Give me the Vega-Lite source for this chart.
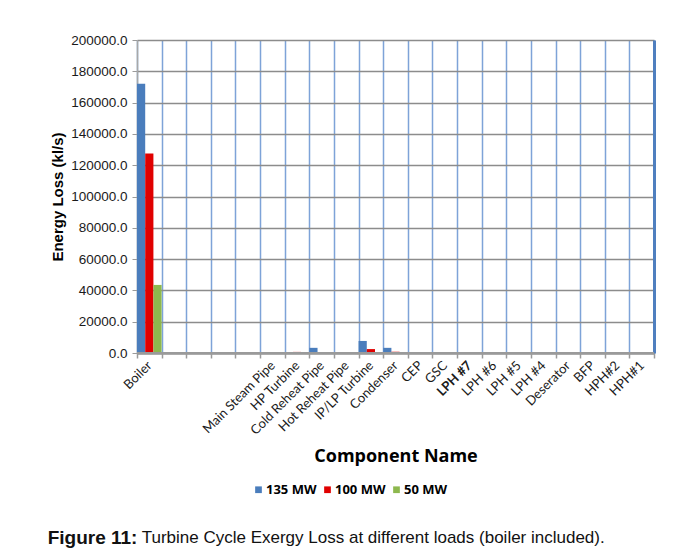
{
  "$schema": "https://vega.github.io/schema/vega-lite/v6.json",
  "autosize": {"type": "pad"},
  "padding": {"left": 47, "top": 33, "right": 5, "bottom": 5},
  "background": "white",
  "title": {
    "text": "Turbine Cycle Exergy Loss at different loads (boiler included).",
    "orient": "bottom",
    "anchor": "start",
    "font": "Liberation Sans",
    "fontSize": 17,
    "fontWeight": "normal",
    "color": "#111111",
    "offset": 0,
    "dx": 94,
    "dy": -18
  },
  "resolve": {"legend": {"color": "independent"}},
  "vconcat": [
    {
      "width": 517,
      "height": 313,
      "title": {
        "text": "Figure 11:",
        "orient": "bottom",
        "anchor": "start",
        "font": "Liberation Sans",
        "fontSize": 19,
        "fontWeight": "bold",
        "color": "#111111",
        "dx": -3,
        "offset": 32
      },
      "data": {
        "values": [
          {"component": "Boiler", "load": "135 MW", "loss": 172000},
          {"component": "Boiler", "load": "100 MW", "loss": 127500},
          {"component": "Boiler", "load": "50 MW", "loss": 43500},
          {"component": "Main Steam Pipe", "load": "135 MW", "loss": 0},
          {"component": "Main Steam Pipe", "load": "100 MW", "loss": 0},
          {"component": "Main Steam Pipe", "load": "50 MW", "loss": 0},
          {"component": "HP Turbine", "load": "135 MW", "loss": 0},
          {"component": "HP Turbine", "load": "100 MW", "loss": 700},
          {"component": "HP Turbine", "load": "50 MW", "loss": 0},
          {"component": "Cold Reheat Pipe", "load": "135 MW", "loss": 3300},
          {"component": "Cold Reheat Pipe", "load": "100 MW", "loss": 0},
          {"component": "Cold Reheat Pipe", "load": "50 MW", "loss": 0},
          {"component": "Hot Reheat Pipe", "load": "135 MW", "loss": 0},
          {"component": "Hot Reheat Pipe", "load": "100 MW", "loss": 0},
          {"component": "Hot Reheat Pipe", "load": "50 MW", "loss": 0},
          {"component": "IP/LP Turbine", "load": "135 MW", "loss": 7700},
          {"component": "IP/LP Turbine", "load": "100 MW", "loss": 2500},
          {"component": "IP/LP Turbine", "load": "50 MW", "loss": 500},
          {"component": "Condenser", "load": "135 MW", "loss": 3300},
          {"component": "Condenser", "load": "100 MW", "loss": 800},
          {"component": "Condenser", "load": "50 MW", "loss": 0},
          {"component": "CEP", "load": "135 MW", "loss": 0},
          {"component": "CEP", "load": "100 MW", "loss": 0},
          {"component": "CEP", "load": "50 MW", "loss": 0},
          {"component": "GSC", "load": "135 MW", "loss": 0},
          {"component": "GSC", "load": "100 MW", "loss": 0},
          {"component": "GSC", "load": "50 MW", "loss": 0},
          {"component": "LPH #7", "load": "135 MW", "loss": 0},
          {"component": "LPH #7", "load": "100 MW", "loss": 0},
          {"component": "LPH #7", "load": "50 MW", "loss": 0},
          {"component": "LPH #6", "load": "135 MW", "loss": 0},
          {"component": "LPH #6", "load": "100 MW", "loss": 0},
          {"component": "LPH #6", "load": "50 MW", "loss": 0},
          {"component": "LPH #5", "load": "135 MW", "loss": 0},
          {"component": "LPH #5", "load": "100 MW", "loss": 0},
          {"component": "LPH #5", "load": "50 MW", "loss": 0},
          {"component": "LPH #4", "load": "135 MW", "loss": 0},
          {"component": "LPH #4", "load": "100 MW", "loss": 0},
          {"component": "LPH #4", "load": "50 MW", "loss": 0},
          {"component": "Deserator", "load": "135 MW", "loss": 0},
          {"component": "Deserator", "load": "100 MW", "loss": 0},
          {"component": "Deserator", "load": "50 MW", "loss": 500},
          {"component": "BFP", "load": "135 MW", "loss": 0},
          {"component": "BFP", "load": "100 MW", "loss": 0},
          {"component": "BFP", "load": "50 MW", "loss": 0},
          {"component": "HPH#2", "load": "135 MW", "loss": 0},
          {"component": "HPH#2", "load": "100 MW", "loss": 0},
          {"component": "HPH#2", "load": "50 MW", "loss": 0},
          {"component": "HPH#1", "load": "135 MW", "loss": 0},
          {"component": "HPH#1", "load": "100 MW", "loss": 0},
          {"component": "HPH#1", "load": "50 MW", "loss": 0}
        ]
      },
      "layer": [
        {
          "mark": {"type": "bar"},
          "encoding": {
            "x": {
              "field": "component",
              "type": "nominal",
              "sort": null,
              "scale": {
                "domain": ["Boiler", " ", "  ", "   ", "    ", "Main Steam Pipe", "HP Turbine", "Cold Reheat Pipe", "Hot Reheat Pipe", "IP/LP Turbine", "Condenser", "CEP", "GSC", "LPH #7", "LPH #6", "LPH #5", "LPH #4", "Deserator", "BFP", "HPH#2", "HPH#1"],
                "paddingInner": 0,
                "paddingOuter": 0
              },
              "axis": {
                "title": "Component Name",
                "titleFont": "Open Sans",
                "titleFontSize": 18,
                "titleFontWeight": "bold",
                "titleColor": "#000000",
                "titlePadding": 10,
                "labelAngle": -45,
                "labelAlign": "right",
                "labelBaseline": "middle",
                "labelFont": "Lato",
                "labelFontSize": 13,
                "labelColor": "#1a1a1a",
                "labelPadding": 5,
                "labelFontWeight": {"expr": "datum.value == 'LPH #7' ? 'bold' : 'normal'"},
                "tickBand": "extent",
                "tickSize": 5,
                "tickColor": "#9a9a9a",
                "tickWidth": 1.5,
                "domainColor": "#9a9a9a",
                "domainWidth": 2.5,
                "grid": true,
                "gridColor": "#7ea3d8",
                "gridWidth": 1.5
              }
            },
            "xOffset": {
              "field": "load",
              "type": "nominal",
              "sort": ["135 MW", "100 MW", "50 MW"],
              "scale": {"paddingInner": 0, "paddingOuter": 0}
            },
            "y": {
              "field": "loss",
              "type": "quantitative",
              "scale": {"domain": [0, 200000], "nice": false},
              "axis": {
                "title": "Energy Loss (kl/s)",
                "titleFont": "Liberation Sans",
                "titleFontSize": 15,
                "titleFontWeight": "bold",
                "titleColor": "#000000",
                "titlePadding": 5,
                "values": [0, 20000, 40000, 60000, 80000, 100000, 120000, 140000, 160000, 180000, 200000],
                "format": ".1f",
                "labelFont": "Liberation Sans",
                "labelFontSize": 13.5,
                "labelColor": "#1a1a1a",
                "labelPadding": 5,
                "tickSize": 5,
                "tickColor": "#9a9a9a",
                "domainColor": "#a8a8a8",
                "domainWidth": 1.5,
                "grid": true,
                "gridColor": "#8c8c8c",
                "gridWidth": 1.5
              }
            },
            "color": {
              "field": "load",
              "type": "nominal",
              "sort": ["135 MW", "100 MW", "50 MW"],
              "scale": {"domain": ["135 MW", "100 MW", "50 MW"], "range": ["#4a7dbc", "#e00000", "#8db84e"]},
              "legend": {
                "title": null,
                "orient": "none",
                "legendX": 115,
                "legendY": 443,
                "direction": "horizontal",
                "symbolType": "square",
                "symbolSize": 45,
                "symbolStrokeWidth": 0,
                "labelFont": "Open Sans",
                "labelFontSize": 13,
                "labelFontWeight": "bold",
                "labelColor": "#000000",
                "labelOffset": 1,
                "columnPadding": 4
              }
            }
          }
        },
        {
          "mark": {"type": "rule", "color": "#9a9a9a", "strokeWidth": 2},
          "encoding": {
            "y": {
              "datum": 0,
              "type": "quantitative",
              "axis": {
                "orient": "right",
                "labels": false,
                "ticks": false,
                "grid": false,
                "title": null,
                "domainColor": "#4f7fbf",
                "domainWidth": 3
              }
            }
          }
        }
      ],
      "resolve": {"axis": {"y": "independent"}}
    }
  ],
  "config": {
    "view": {"stroke": null}
  }
}
